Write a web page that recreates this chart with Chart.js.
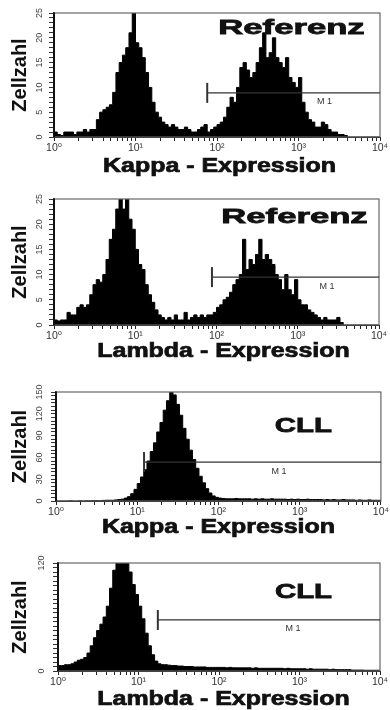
<!DOCTYPE html>
<html lang="de">
<head>
<meta charset="UTF-8">
<title>Kappa / Lambda Expression</title>
<script src="https://cdn.jsdelivr.net/npm/chart.js"></script>
<style>
  html, body { margin: 0; padding: 0; background: #fff; }
  #figure { position: relative; width: 390px; height: 710px; }
  #figure canvas { position: absolute; left: 0; }
</style>
</head>
<body>
<div id="figure">
  <canvas id="p0" width="390" height="180" style="top:0px"></canvas>
  <canvas id="p1" width="390" height="185" style="top:180px"></canvas>
  <canvas id="p2" width="390" height="175" style="top:365px"></canvas>
  <canvas id="p3" width="390" height="170" style="top:540px"></canvas>
</div>
<script>
// decade labels of the log channel axis (25 channels per decade, 100 channels)
const decadeLabels = ['10⁰', '10¹', '10²', '10³', '10⁴'];
const channelsPerDecade = 25;

// cell counts per channel
const kappaReferenz = [
  1.5, 1, 0.5, 0.3, 1, 1, 1, 0.5, 1, 1,
  1.5, 1, 1.5, 1.5, 3.5, 5, 5.5, 6, 6.5, 9,
  13, 15, 16.5, 18, 21, 25, 19, 18, 16, 13,
  10, 7, 5, 4, 3, 2.5, 2, 2.5, 2, 1.5,
  1.5, 2, 1.5, 1, 1, 1.5, 2, 2.5, 1, 1.5,
  2, 2.5, 3, 4, 6, 8, 7, 10, 14, 15,
  13.5, 12, 13, 15, 18, 21, 16, 17, 20, 16,
  15, 14, 16, 12, 11, 10, 12, 7, 5, 3.5,
  3, 2, 2, 3, 2.5, 1.5, 1, 1, 0.5, 0.5,
  0.3, 0, 0, 0, 0, 0, 0, 0, 0, 0
];
const lambdaReferenz = [
  2, 1, 0.8, 1, 1, 2.5, 2, 2, 3.5, 4,
  3.5, 4, 6, 8, 9, 8.5, 10, 13, 17, 19,
  23, 25, 23, 25, 21, 19, 15, 12, 11, 8,
  6, 4.5, 3, 2, 1.5, 1, 1.5, 1, 2, 1,
  1, 2.5, 1, 1.5, 2, 1.5, 2, 1.5, 2, 2,
  2.5, 3.5, 4, 5, 5.5, 6.5, 8, 9, 10, 17,
  11, 13, 12, 14, 17, 13, 14, 13, 12, 10,
  9, 7, 10, 7, 6, 9, 5, 4, 4, 3,
  2.5, 2, 1.5, 1, 1.5, 1, 1, 1, 1.5, 0.5,
  0, 0, 0, 0, 0, 0, 0, 0, 0, 0
];
const kappaCLL = [
  0, 0, 0, 0, 0, 0.3, 0, 0, 0.3, 0,
  0.3, 0.3, 0.5, 0.5, 0.5, 0.8, 1, 1, 1, 1.5,
  2, 2.5, 4, 6, 10, 16, 24, 33, 43, 55,
  68, 80, 95, 108, 125, 138, 150, 146, 133, 118,
  100, 85, 70, 57, 45, 34, 25, 17, 11, 7,
  5, 4, 3.5, 3, 3, 3, 3.5, 3, 3, 3,
  3, 2.5, 3, 2.5, 3, 2.5, 2.5, 3, 2.5, 2.5,
  2.5, 2.5, 2, 2.5, 2, 2.5, 2, 2, 2.5, 2,
  2, 2, 2, 1.5, 2, 1.5, 2, 1.5, 1.5, 2,
  1.5, 1.5, 1.5, 1, 1.5, 1, 1, 1.5, 1, 1
];
const lambdaCLL = [
  45, 6, 6, 7, 7, 8, 10, 12, 13, 15,
  20, 28, 37, 45, 52, 60, 72, 92, 112, 124,
  125, 122, 120, 110, 96, 85, 72, 58, 42, 28,
  18, 11, 8, 7, 7, 6.5, 6, 6, 5.5, 5.5,
  5, 5, 5, 4.5, 4.5, 4.5, 4.5, 4, 4, 4,
  4, 4, 4, 3.5, 4, 3.5, 3.5, 3.5, 3.5, 3.5,
  3.5, 3, 3.5, 3, 3, 3, 3, 3, 3, 3,
  3, 2.5, 3, 2.5, 2.5, 2.5, 2.5, 2.5, 2, 2.5,
  2, 2, 2, 2, 2, 1.5, 2, 1.5, 1.5, 1.5,
  1.5, 1.5, 1, 1, 1, 1, 0.8, 0.8, 0.8, 0.8
];

const histograms = [kappaReferenz, lambdaReferenz, kappaCLL, lambdaCLL];
const xTitles = ['Kappa - Expression', 'Lambda - Expression', 'Kappa - Expression', 'Lambda - Expression'];
const sampleNames = ['Referenz', 'Referenz', 'CLL', 'CLL'];
const yMax = [25, 25, 150, 120];
const yTickLabels = [[0, 5, 10, 15, 20, 25], [0, 5, 10, 15, 20, 25], [0, 30, 60, 90, 120, 150], [0, 120]];
const yMinorStep = [1, 1, 5, 5];

// M1 marker: start channel, count level, channel of the label
const gateName = 'M1';
const gateStart = [47, 48.6, 27.1, 31];
const gateLevel = [8.9, 9.5, 53.6, 56.7];
const gateLabelAt = [83, 84, 68.6, 73];

// layout of each panel inside its canvas
const layout = [
  { left: 54, right: 380, areaTop: 13, areaBottom: 137, titleDx: 2.5, titleDy: 35, tagRight: 88.5, tagDy: 21, tagScale: 1.65 },
  { left: 54, right: 379, areaTop: 19, areaBottom: 145, titleDx: 7, titleDy: 32, tagRight: 84.5, tagDy: 24, tagScale: 1.65 },
  { left: 56, right: 381, areaTop: 27, areaBottom: 136, titleDx: 0, titleDy: 32, tagRight: 77.5, tagDy: 40, tagScale: 1.4 },
  { left: 58, right: 380, areaTop: 23, areaBottom: 131, titleDx: 4.5, titleDy: 34, tagRight: 76.5, tagDy: 35, tagScale: 1.4 }
];

const FONT = '"Liberation Sans", "DejaVu Sans", Arial, sans-serif';
const nChannels = channelsPerDecade * (decadeLabels.length - 1);

// major decade ticks plus log minor ticks (2..9) on the channel axis
const xTickValues = [];
for (let d = 0; d < decadeLabels.length; d++) {
  xTickValues.push({ value: d * channelsPerDecade, major: true });
  if (d < decadeLabels.length - 1) {
    for (let k = 2; k <= 9; k++) {
      xTickValues.push({ value: (d + Math.log10(k)) * channelsPerDecade, major: false });
    }
  }
}

function stretchedText(ctx, text, cx, baseline, sx, font, strokeW) {
  ctx.save();
  ctx.font = font;
  ctx.translate(cx, baseline);
  ctx.scale(sx, 1);
  ctx.textAlign = 'center';
  ctx.textBaseline = 'alphabetic';
  ctx.fillStyle = '#111';
  ctx.strokeStyle = '#111';
  ctx.lineWidth = strokeW;
  ctx.fillText(text, 0, 0);
  ctx.strokeText(text, 0, 0);
  ctx.restore();
}

const panelDecor = {
  id: 'panelDecor',
  afterDatasetsDraw(chart, args, opts) {
    const i = opts.index;
    const L = layout[i];
    const { ctx, chartArea: a, scales: { x, y } } = chart;
    ctx.save();
    // frame
    ctx.strokeStyle = '#666';
    ctx.lineWidth = 1.2;
    ctx.strokeRect(a.left, a.top, a.right - a.left, a.bottom - a.top);
    ctx.strokeStyle = '#111';
    ctx.lineWidth = 2;
    ctx.beginPath();
    ctx.moveTo(a.left, a.top);
    ctx.lineTo(a.left, a.bottom);
    ctx.stroke();

    // M1 gate
    const gx = x.getPixelForValue(gateStart[i]);
    const gy = y.getPixelForValue(gateLevel[i]);
    ctx.strokeStyle = '#333';
    ctx.lineWidth = 1.3;
    ctx.beginPath();
    ctx.moveTo(gx, gy);
    ctx.lineTo(a.right, gy);
    ctx.stroke();
    ctx.lineWidth = 2;
    ctx.beginPath();
    ctx.moveTo(gx, gy - 10);
    ctx.lineTo(gx, gy + 10);
    ctx.stroke();
    ctx.font = '9px ' + FONT;
    ctx.fillStyle = '#333';
    ctx.textAlign = 'center';
    ctx.textBaseline = 'middle';
    ctx.fillText('M 1', x.getPixelForValue(gateLabelAt[i]), gy + 9);

    // sample name and x axis title
    stretchedText(ctx, sampleNames[i], a.right - L.tagRight, a.top + L.tagDy, L.tagScale,
      'bold 21px ' + FONT, 0.8);
    stretchedText(ctx, xTitles[i], (a.left + a.right) / 2 + L.titleDx, a.bottom + L.titleDy, 1.28,
      'bold 19.5px ' + FONT, 0.7);
    ctx.restore();
  }
};

histograms.forEach((counts, i) => {
  const L = layout[i];
  const canvas = document.getElementById('p' + i);
  const points = counts.map((v, ch) => ({ x: ch, y: v }));
  points.push({ x: nChannels, y: counts[counts.length - 1] });

  const yTicks = [];
  for (let v = 0; v <= yMax[i] + 1e-9; v += yMinorStep[i]) {
    yTicks.push({ value: v, major: yTickLabels[i].includes(v) });
  }

  new Chart(canvas, {
    type: 'line',
    data: {
      datasets: [{
        label: gateName,
        data: points,
        stepped: 'after',
        fill: 'origin',
        backgroundColor: '#000',
        borderColor: '#000',
        borderWidth: 1,
        pointRadius: 0,
        tension: 0
      }]
    },
    options: {
      responsive: false,
      animation: false,
      devicePixelRatio: 1,
      layout: { padding: { left: 0, top: L.areaTop, right: 390 - L.right, bottom: 0 } },
      plugins: {
        legend: { display: false },
        tooltip: { enabled: false },
        panelDecor: { index: i }
      },
      scales: {
        x: {
          type: 'linear',
          min: 0,
          max: nChannels,
          afterBuildTicks: (s) => { s.ticks = xTickValues.map(t => ({ value: t.value, major: t.major })); },
          afterFit: (s) => { s.height = canvas.height - L.areaBottom; },
          grid: { display: true, drawOnChartArea: false, drawTicks: true, tickLength: 4, tickColor: '#222' },
          border: { display: true, color: '#111', width: 1 },
          ticks: {
            autoSkip: false,
            maxRotation: 0,
            minRotation: 0,
            padding: 1,
            color: '#333',
            font: { family: FONT, size: 10.5 },
            callback: (v) => {
              const d = v / channelsPerDecade;
              return Number.isInteger(d) ? decadeLabels[d] : '';
            }
          }
        },
        y: {
          type: 'linear',
          min: 0,
          max: yMax[i],
          afterBuildTicks: (s) => { s.ticks = yTicks.map(t => ({ value: t.value, major: t.major })); },
          afterFit: (s) => { s.width = L.left; },
          grid: { display: true, drawOnChartArea: false, drawTicks: true, tickLength: 5, tickColor: '#333' },
          border: { display: true, color: '#111', width: 2 },
          title: {
            display: true,
            text: 'Zellzahl',
            color: '#111',
            font: { family: FONT, size: 20, weight: 'bold' },
            padding: { top: 8, bottom: 0 }
          },
          ticks: {
            autoSkip: false,
            minRotation: 90,
            maxRotation: 90,
            crossAlign: 'center',
            padding: 4,
            color: '#444',
            font: { family: FONT, size: 9 },
            callback: (v) => yTickLabels[i].includes(v) ? String(v) : ''
          }
        }
      }
    },
    plugins: [panelDecor]
  });
});
</script>
</body>
</html>
